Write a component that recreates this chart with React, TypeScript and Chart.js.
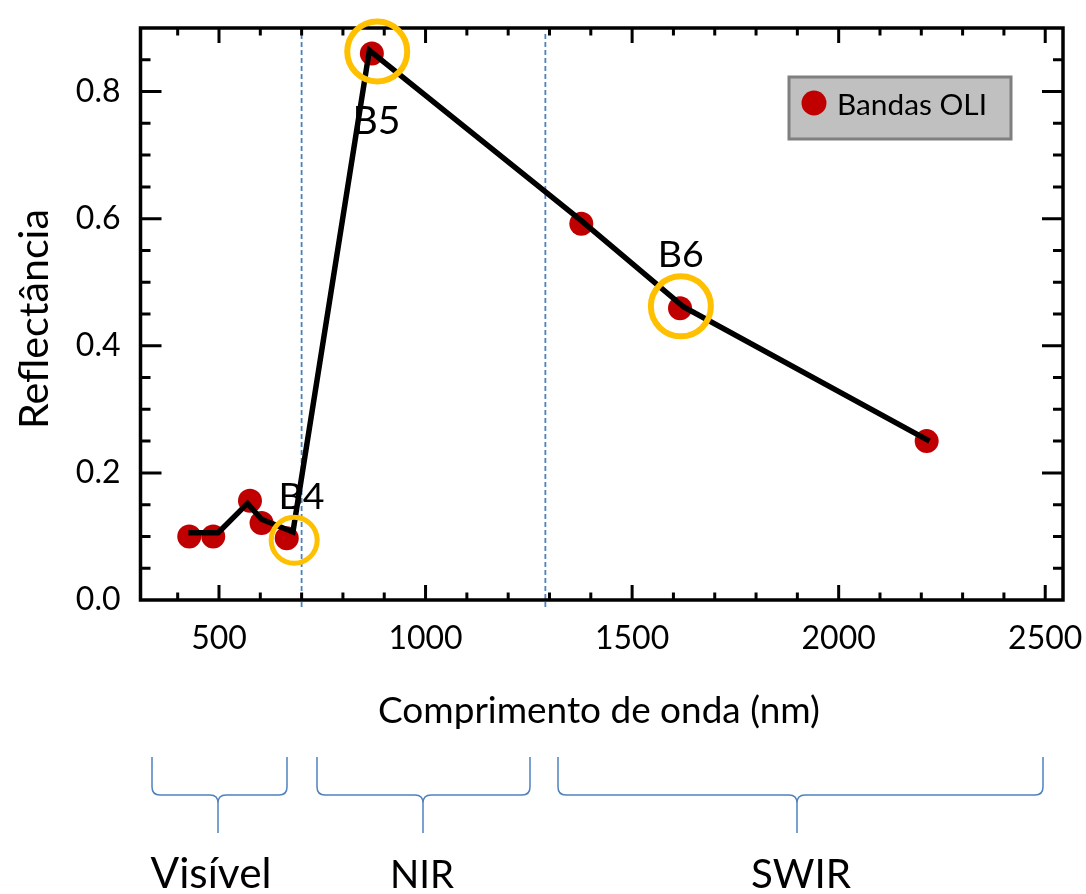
import React, { useEffect, useRef } from 'react';
import { Chart, registerables } from 'chart.js';

Chart.register(...registerables);

// ---- data ----
const bandWavelengths = [428, 486, 575, 603, 664, 870, 1377, 1616, 2213];
const bandReflectance = [0.100, 0.100, 0.156, 0.121, 0.097, 0.860, 0.592, 0.459, 0.250];

const lineWavelengths = [426, 498, 569, 603, 679, 864, 1377, 1625, 2220];
const lineReflectance = [0.106, 0.106, 0.152, 0.127, 0.107, 0.865, 0.597, 0.461, 0.250];

const highlightWavelengths = [682, 883, 1618];
const highlightReflectance = [0.094, 0.863, 0.462];
const highlightLabels = ['B4', 'B5', 'B6'];
const highlightLabelX = [700, 881, 1618];
const highlightLabelY = [0.143, 0.734, 0.524];

const xTickValues = [500, 1000, 1500, 2000, 2500];
const yTickValues = [0, 0.2, 0.4, 0.6, 0.8];
const regionDividers = [700, 1290];
const regionNames = ['Visível', 'NIR', 'SWIR'];

const legendLabel = 'Bandas OLI';
const xTitle = 'Comprimento de onda (nm)';
const yTitle = 'Reflectância';

const FONT = 'Lato, "Open Sans", sans-serif';

function fitSize(ctx: CanvasRenderingContext2D, text: string, width: number): number {
  ctx.font = `40px ${FONT}`;
  const w = ctx.measureText(text).width;
  return (40 * width) / w;
}

function zeroPadding(s: any) {
  s.paddingTop = 0;
  s.paddingBottom = 0;
  s.paddingLeft = 0;
  s.paddingRight = 0;
}

export default function App() {
  const ref = useRef<HTMLCanvasElement>(null);

  useEffect(() => {
    document.body.style.margin = '0';
    const canvas = ref.current!;

    const decor = {
      id: 'decor',
      beforeDatasetsDraw(chart: any) {
        const { ctx, chartArea } = chart;
        const { left, right, top, bottom } = chartArea;
        const xs = chart.scales.x;
        const ys = chart.scales.y;
        ctx.save();
        // dashed region dividers
        ctx.strokeStyle = '#4f81bd';
        ctx.lineWidth = 1.8;
        ctx.setLineDash([5, 3]);
        for (const v of regionDividers) {
          const px = xs.getPixelForValue(v);
          ctx.beginPath();
          ctx.moveTo(px, top + 6);
          ctx.lineTo(px, bottom + 8);
          ctx.stroke();
        }
        ctx.setLineDash([]);
        // ticks (inward, all four sides)
        ctx.strokeStyle = '#000';
        ctx.lineWidth = 3;
        for (let v = 100; v <= xs.max; v += 100) {
          if (v <= xs.min) continue;
          const px = xs.getPixelForValue(v);
          const len = v % 500 === 0 ? 15 : 7.5;
          ctx.beginPath();
          ctx.moveTo(px, bottom);
          ctx.lineTo(px, bottom - len);
          ctx.moveTo(px, top);
          ctx.lineTo(px, top + len);
          ctx.stroke();
        }
        for (let i = 1; i < 18; i++) {
          const v = i * 0.05;
          const py = ys.getPixelForValue(v);
          const len = i % 4 === 0 ? 21 : 10;
          ctx.beginPath();
          ctx.moveTo(left, py);
          ctx.lineTo(left + len, py);
          ctx.moveTo(right, py);
          ctx.lineTo(right - len, py);
          ctx.stroke();
        }
        // frame
        ctx.lineWidth = 3.5;
        ctx.strokeRect(left, top, right - left, bottom - top);
        ctx.restore();
      },
      afterDatasetsDraw(chart: any) {
        const { ctx } = chart;
        const xs = chart.scales.x;
        const ys = chart.scales.y;
        ctx.save();
        ctx.fillStyle = '#000';
        ctx.textAlign = 'center';
        ctx.textBaseline = 'alphabetic';
        highlightLabels.forEach((t, i) => {
          const size = fitSize(ctx, t, i === 1 ? 48 : 46);
          ctx.font = `${size}px ${FONT}`;
          ctx.fillText(t, xs.getPixelForValue(highlightLabelX[i]), ys.getPixelForValue(highlightLabelY[i]));
        });
        // legend
        ctx.fillStyle = '#c0c0c0';
        ctx.fillRect(789, 77, 222, 62);
        ctx.strokeStyle = '#7f7f7f';
        ctx.lineWidth = 3;
        ctx.strokeRect(789, 77, 222, 62);
        ctx.fillStyle = '#c00000';
        ctx.beginPath();
        ctx.arc(814, 103, 12.5, 0, Math.PI * 2);
        ctx.fill();
        ctx.fillStyle = '#000';
        ctx.textAlign = 'left';
        const ls = fitSize(ctx, legendLabel, 150);
        ctx.font = `${ls}px ${FONT}`;
        ctx.fillText(legendLabel, 837, 115);
        ctx.restore();
      },
      afterDraw(chart: any) {
        const { ctx } = chart;
        ctx.save();
        ctx.fillStyle = '#000';
        // x title
        ctx.textAlign = 'center';
        ctx.textBaseline = 'alphabetic';
        const xsz = fitSize(ctx, xTitle, 442);
        ctx.font = `${xsz}px ${FONT}`;
        ctx.fillText(xTitle, 599, 723);
        // y title
        const ysz = fitSize(ctx, yTitle, 220);
        ctx.font = `${ysz}px ${FONT}`;
        ctx.translate(48, 319);
        ctx.rotate(-Math.PI / 2);
        ctx.fillText(yTitle, 0, 0);
        ctx.restore();

        // brackets
        ctx.save();
        const brackets = [
          { x0: 152, x1: 287, tip: 218 },
          { x0: 317, x1: 530, tip: 423 },
          { x0: 558, x1: 1043, tip: 797 },
        ];
        const yTop = 757, yMid = 795, yTip = 833, r = 8;
        ctx.strokeStyle = '#4f81bd';
        ctx.lineWidth = 1.5;
        for (const b of brackets) {
          ctx.beginPath();
          ctx.moveTo(b.x0, yTop);
          ctx.lineTo(b.x0, yMid - r);
          ctx.quadraticCurveTo(b.x0, yMid, b.x0 + r, yMid);
          ctx.lineTo(b.tip - r, yMid);
          ctx.quadraticCurveTo(b.tip, yMid, b.tip, yMid + r);
          ctx.lineTo(b.tip, yTip);
          ctx.moveTo(b.x1, yTop);
          ctx.lineTo(b.x1, yMid - r);
          ctx.quadraticCurveTo(b.x1, yMid, b.x1 - r, yMid);
          ctx.lineTo(b.tip + r, yMid);
          ctx.quadraticCurveTo(b.tip, yMid, b.tip, yMid + r);
          ctx.stroke();
        }
        // region names
        ctx.fillStyle = '#000';
        ctx.textAlign = 'center';
        const regionCenters = [211, 422, 801];
        const regionWidths = [121, 64, 100];
        regionNames.forEach((n, i) => {
          const s = fitSize(ctx, n, regionWidths[i]);
          ctx.font = `${s}px ${FONT}`;
          ctx.fillText(n, regionCenters[i], 888);
        });
        ctx.restore();
      },
    };

    const chart = new Chart(canvas, {
      type: 'scatter',
      data: {
        datasets: [
          {
            label: 'highlight',
            data: highlightWavelengths.map((x, i) => ({ x, y: highlightReflectance[i] })),
            pointRadius: [23, 30, 30],
            pointBorderWidth: [5, 6, 6],
            pointBackgroundColor: 'rgba(0,0,0,0)',
            pointBorderColor: '#ffc000',
            pointHoverRadius: [23, 30, 30],
            showLine: false,
            clip: false,
            order: 0,
          } as any,
          {
            label: 'curve',
            data: lineWavelengths.map((x, i) => ({ x, y: lineReflectance[i] })),
            showLine: true,
            borderColor: '#000',
            borderWidth: 5.5,
            pointRadius: 0,
            pointHoverRadius: 0,
            tension: 0,
            borderJoinStyle: 'miter',
            order: 1,
          } as any,
          {
            label: legendLabel,
            data: bandWavelengths.map((x, i) => ({ x, y: bandReflectance[i] })),
            pointRadius: 12,
            pointHoverRadius: 12,
            pointBackgroundColor: '#c00000',
            pointBorderColor: '#c00000',
            pointBorderWidth: 0,
            showLine: false,
            order: 2,
          } as any,
        ],
      },
      options: {
        responsive: false,
        animation: false,
        events: [],
        layout: { autoPadding: false, padding: { top: 28, right: 23, left: 0, bottom: 0 } },
        plugins: { legend: { display: false }, tooltip: { enabled: false } },
        scales: {
          x: {
            type: 'linear',
            min: 310,
            max: 2543,
            grid: { display: false, drawTicks: false },
            border: { display: false },
            ticks: {
              font: { family: FONT, size: 32 },
              color: '#000',
              padding: 19,
              maxRotation: 0,
              callback: (v: any) => String(v),
            },
            afterBuildTicks: (s: any) => {
              s.ticks = xTickValues.map((v) => ({ value: v }));
            },
            afterFit: (s: any) => {
              s.height = 294;
              zeroPadding(s);
            },
          },
          y: {
            type: 'linear',
            min: 0,
            max: 0.9,
            grid: { display: false, drawTicks: false },
            border: { display: false },
            ticks: {
              font: { family: FONT, size: 32 },
              color: '#000',
              padding: 20,
              callback: (v: any) => Number(v).toFixed(1),
            },
            afterBuildTicks: (s: any) => {
              s.ticks = yTickValues.map((v) => ({ value: v }));
            },
            afterFit: (s: any) => {
              s.width = 140.5;
              zeroPadding(s);
            },
          },
        },
      } as any,
      plugins: [decor],
    });

    return () => chart.destroy();
  }, []);

  return <canvas ref={ref} width={1086} height={894} style={{ display: 'block' }} />;
}
